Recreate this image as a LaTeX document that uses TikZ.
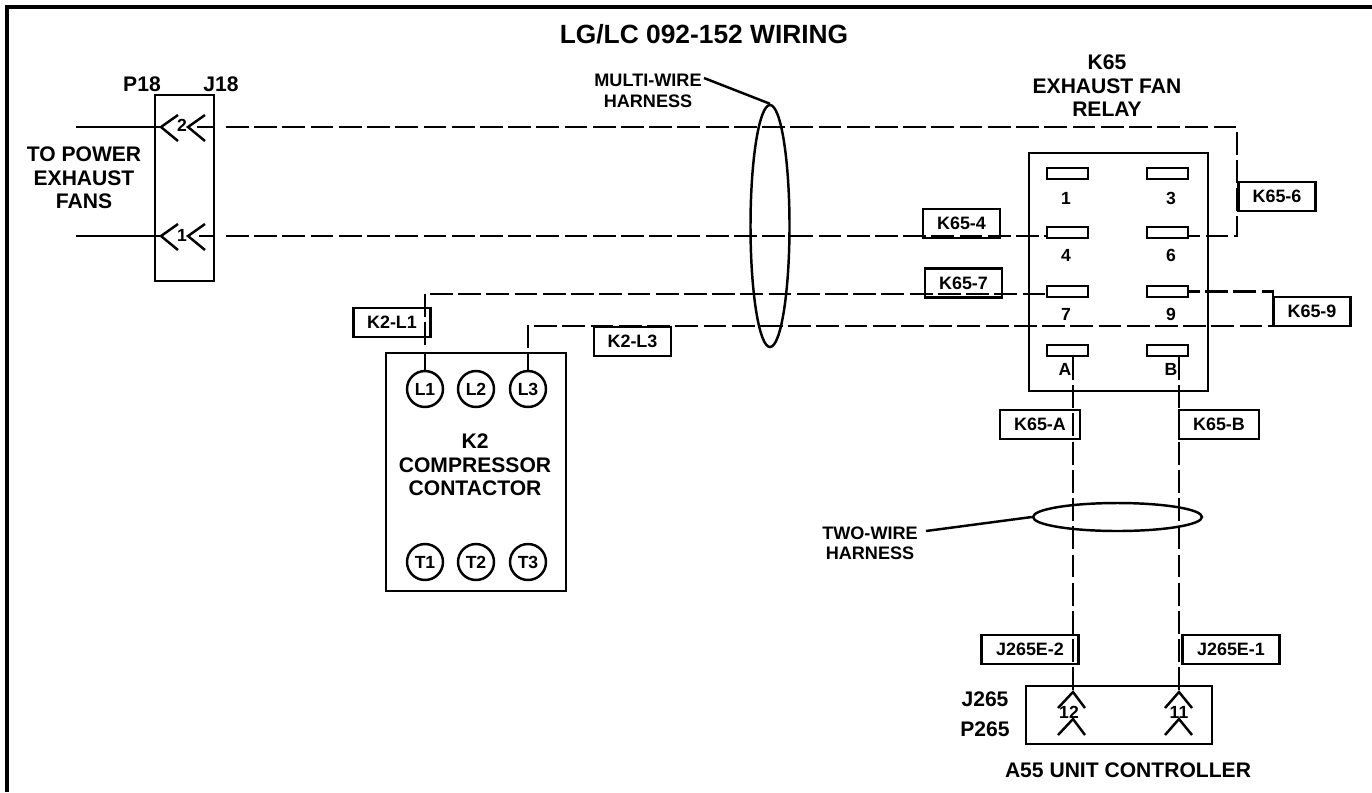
\documentclass[tikz,border=0pt]{standalone}
\usepackage{fontspec}
\setmainfont{Liberation Sans}
\usetikzlibrary{positioning}
\usetikzlibrary{shapes.geometric}

\begin{document}
\begin{tikzpicture}[x=0.02cm,y=-0.02cm,line width=1.4pt,font=\bfseries,
    wire/.style={dash pattern=on 13pt off 3.06pt},
    box/.style={draw,inner sep=0pt},
    slot/.style={draw,minimum width=0.82cm,minimum height=0.22cm,inner sep=0pt},
    tag/.style={draw,minimum width=1.54cm,minimum height=0.58cm,inner sep=0pt,font=\fontsize{10.2}{12}\bfseries},
    widetag/.style={tag,minimum width=1.94cm},
    pin/.style={circle,draw,minimum size=0.72cm,inner sep=0pt,font=\fontsize{10}{12}\bfseries},
    lbl/.style={align=center,inner sep=0pt,font=\fontsize{12}{13.4}\selectfont\bfseries},
    small/.style={align=center,inner sep=0pt,font=\fontsize{10.3}{11.6}\selectfont\bfseries},
    num/.style={inner sep=0pt,font=\fontsize{10}{12}\bfseries}]
      \useasboundingbox (0,0) rectangle (1372,792);
      \draw[line width=2.3pt] (7,792) -- (7,7) -- (1372,7);

      \node[lbl,font=\fontsize{15}{18}\bfseries] (title) at (704,34) {LG/LC 092-152 WIRING};

      \node[box,minimum width=1.18cm,minimum height=3.72cm] (plug) at (184.5,188) {};
      \node[lbl] (pTop) at (142,84) {P18};
      \node[lbl] (jTop) at (221,84) {J18};
      \node[lbl] (fans) at (84,178) {TO POWER\\EXHAUST\\FANS};
      \node[num] (pinTwo) at (182,125) {2};
      \node[num] (pinOne) at (182,235) {1};
      \coordinate (fanA) at (76,127);
      \coordinate (fanB) at (76,236);
      \coordinate (pA) at (161,127);
      \coordinate (pB) at (161,236);
      \coordinate (tipA) at (188,127);
      \coordinate (tipB) at (188,236);
      \coordinate (jA) at (226,127);
      \coordinate (jB) at (226,236);
      \draw (fanA) -- (pA);
      \draw (fanB) -- (pB);
      \draw (178,115) -- (pA) -- (178,141);
      \draw (178,224) -- (pB) -- (178,250);
      \draw (205,115) -- (tipA) -- (205,141);
      \draw (205,224) -- (tipB) -- (205,250);
      \draw (197,127) -- (plug.east |- jA);
      \draw (199,236) -- (plug.east |- jB);

      \node[box,minimum width=3.58cm,minimum height=4.76cm] (relay) at (1118.5,272) {};
      \node[lbl] (relayName) at (1107,86) {K65\\EXHAUST FAN\\RELAY};
      \node[slot] (s1) at (1067.5,173.5) {};
      \node[slot] (s3) at (1167.5,173.5) {};
      \node[slot] (s4) at (1067.5,232.5) {};
      \node[slot] (s6) at (1167.5,232.5) {};
      \node[slot] (s7) at (1067.5,291.5) {};
      \node[slot] (s9) at (1167.5,291.5) {};
      \node[slot] (sA) at (1067.5,350.5) {};
      \node[slot] (sB) at (1167.5,350.5) {};
      \node[num] (n1) at (1066,198) {1};
      \node[num] (n3) at (1171,198) {3};
      \node[num] (n4) at (1066,255) {4};
      \node[num] (n6) at (1171,255) {6};
      \node[num] (n7) at (1066,314) {7};
      \node[num] (n9) at (1171,314) {9};
      \node[num] (nA) at (1065,369) {A};
      \node[num] (nB) at (1171,369) {B};

      \node[tag] (k6) at (1277,196.5) {K65-6};
      \node[tag] (k4) at (961.5,223.5) {K65-4};
      \node[tag] (k7) at (963.5,283) {K65-7};
      \node[tag] (k9) at (1312,311.5) {K65-9};
      \node[tag,minimum width=1.6cm] (kA) at (1040,424.5) {K65-A};
      \node[tag,minimum width=1.6cm] (kB) at (1219,424.5) {K65-B};
      \node[widetag] (jE2) at (1030,649.5) {J265E-2};
      \node[widetag] (jE1) at (1231,649.5) {J265E-1};
      \node[tag] (kL1) at (392,322.5) {K2-L1};
      \node[tag] (kL3) at (632.5,341.5) {K2-L3};

      \node[box,minimum width=3.6cm,minimum height=4.76cm] (contactor) at (476,472) {};
      \node[lbl] (contactorName) at (475,465) {K2\\COMPRESSOR\\CONTACTOR};
      \node[pin] (L1) at (425,389) {L1};
      \node[pin] (L2) at (476,389) {L2};
      \node[pin] (L3) at (528,389) {L3};
      \node[pin] (T1) at (425,562) {T1};
      \node[pin] (T2) at (476,562) {T2};
      \node[pin] (T3) at (528,562) {T3};

      \node[box,minimum width=3.72cm,minimum height=1.16cm] (ctrl) at (1119,715) {};
      \node[lbl] (jLbl) at (985,699) {J265};
      \node[lbl] (pLbl) at (985,729) {P265};
      \node[lbl] (ctrlName) at (1128,770) {A55 UNIT CONTROLLER};
      \node[num] (pinTwelve) at (1069,712) {12};
      \node[num] (pinEleven) at (1179,712) {11};
      \coordinate (jC) at (1073,692);
      \coordinate (jD) at (1179,692);
      \coordinate (pC) at (1073,719);
      \coordinate (pD) at (1179,719);
      \draw (1058,708) -- (jC) -- (1085,708);
      \draw (1165,708) -- (jD) -- (1192,708);
      \draw (1058,735) -- (pC) -- (1085,735);
      \draw (1165,735) -- (pD) -- (1192,735);

      \coordinate (endSix) at (1188,236);
      \coordinate (endFour) at (1047,236);
      \coordinate (endSeven) at (1047,294);
      \coordinate (cornerOne) at (425,294);
      \draw[wire] (jA) -- (1237,127) |- (endSix);
      \draw[wire] (jB) -- (endFour);
      \draw (L1.north) -- (425,352);
      \draw[wire] (425,345) -- (cornerOne);
      \draw[wire] (430,294) -- (endSeven);
      \draw (L3.north) -- (528,352);
      \draw[wire] (528,348) |- (1273,326) |- (s9.east);
      \draw[wire] (1073,357) -- (jC);
      \draw[wire] (1179,357) -- (jD);

      \node[draw,ellipse,minimum width=0.78cm,minimum height=4.84cm,inner sep=0pt] (multi) at (770,226) {};
      \node[small] (multiName) at (648,91) {MULTI-WIRE\\HARNESS};
      \coordinate (multiEnd) at (704,78);
      \draw (multiEnd) -- (multi.north);

      \node[draw,ellipse,minimum width=3.38cm,minimum height=0.56cm,inner sep=0pt] (two) at (1117.5,517) {};
      \node[small] (twoName) at (870,543) {TWO-WIRE\\HARNESS};
      \coordinate (twoEnd) at (926,531);
      \draw (twoEnd) -- (two.west);
\end{tikzpicture}
\end{document}
